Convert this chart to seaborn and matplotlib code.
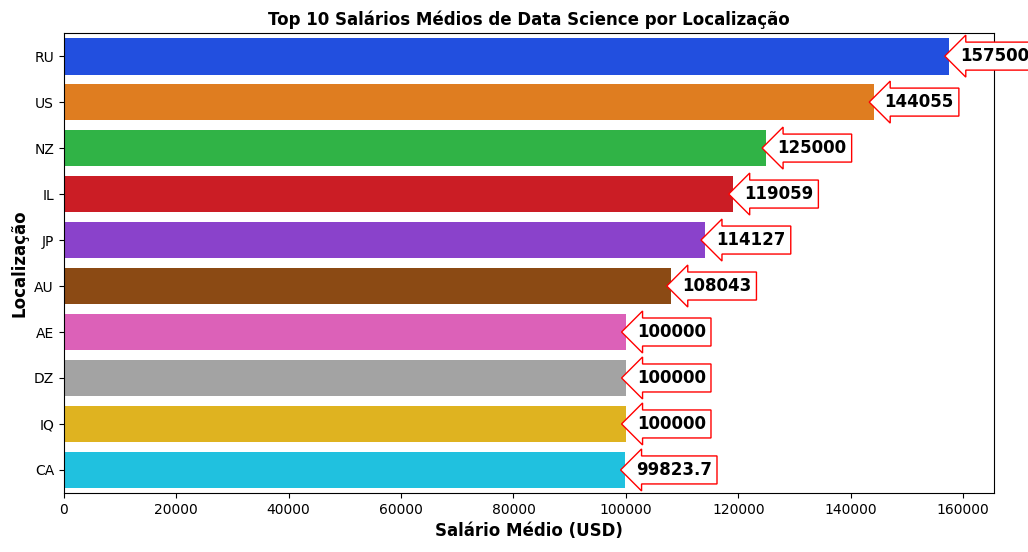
import matplotlib
matplotlib.use("Agg")
import matplotlib.pyplot as plt
import seaborn as sns
import pandas as pd

locations = ["RU", "US", "NZ", "IL", "JP", "AU", "AE", "DZ", "IQ", "CA"]
salaries = [157500, 144055, 125000, 119059, 114127, 108043, 100000, 100000, 100000, 99823.7]

df = pd.DataFrame({"loc": locations, "sal": salaries})
fig, ax = plt.subplots(figsize=(10.28, 5.52), dpi=100)
sns.barplot(data=df, x="sal", y="loc", hue="loc", palette="bright", legend=False, ax=ax)
for c in ax.containers:
    ax.bar_label(c, fmt="%g", padding=8, fontsize=12, fontweight="bold",
                 bbox=dict(boxstyle="larrow", fc="white", ec="red"))
ax.set_xlim(0, 165500)
ax.set_title("Top 10 Salários Médios de Data Science por Localização", fontweight="bold")
ax.set_xlabel("Salário Médio (USD)", fontsize=12, fontweight="bold")
ax.set_ylabel("Localização", fontsize=12, fontweight="bold")
plt.subplots_adjust(left=0.062, right=0.967, top=0.94, bottom=0.107)
fig.savefig("out.png", dpi=100)
